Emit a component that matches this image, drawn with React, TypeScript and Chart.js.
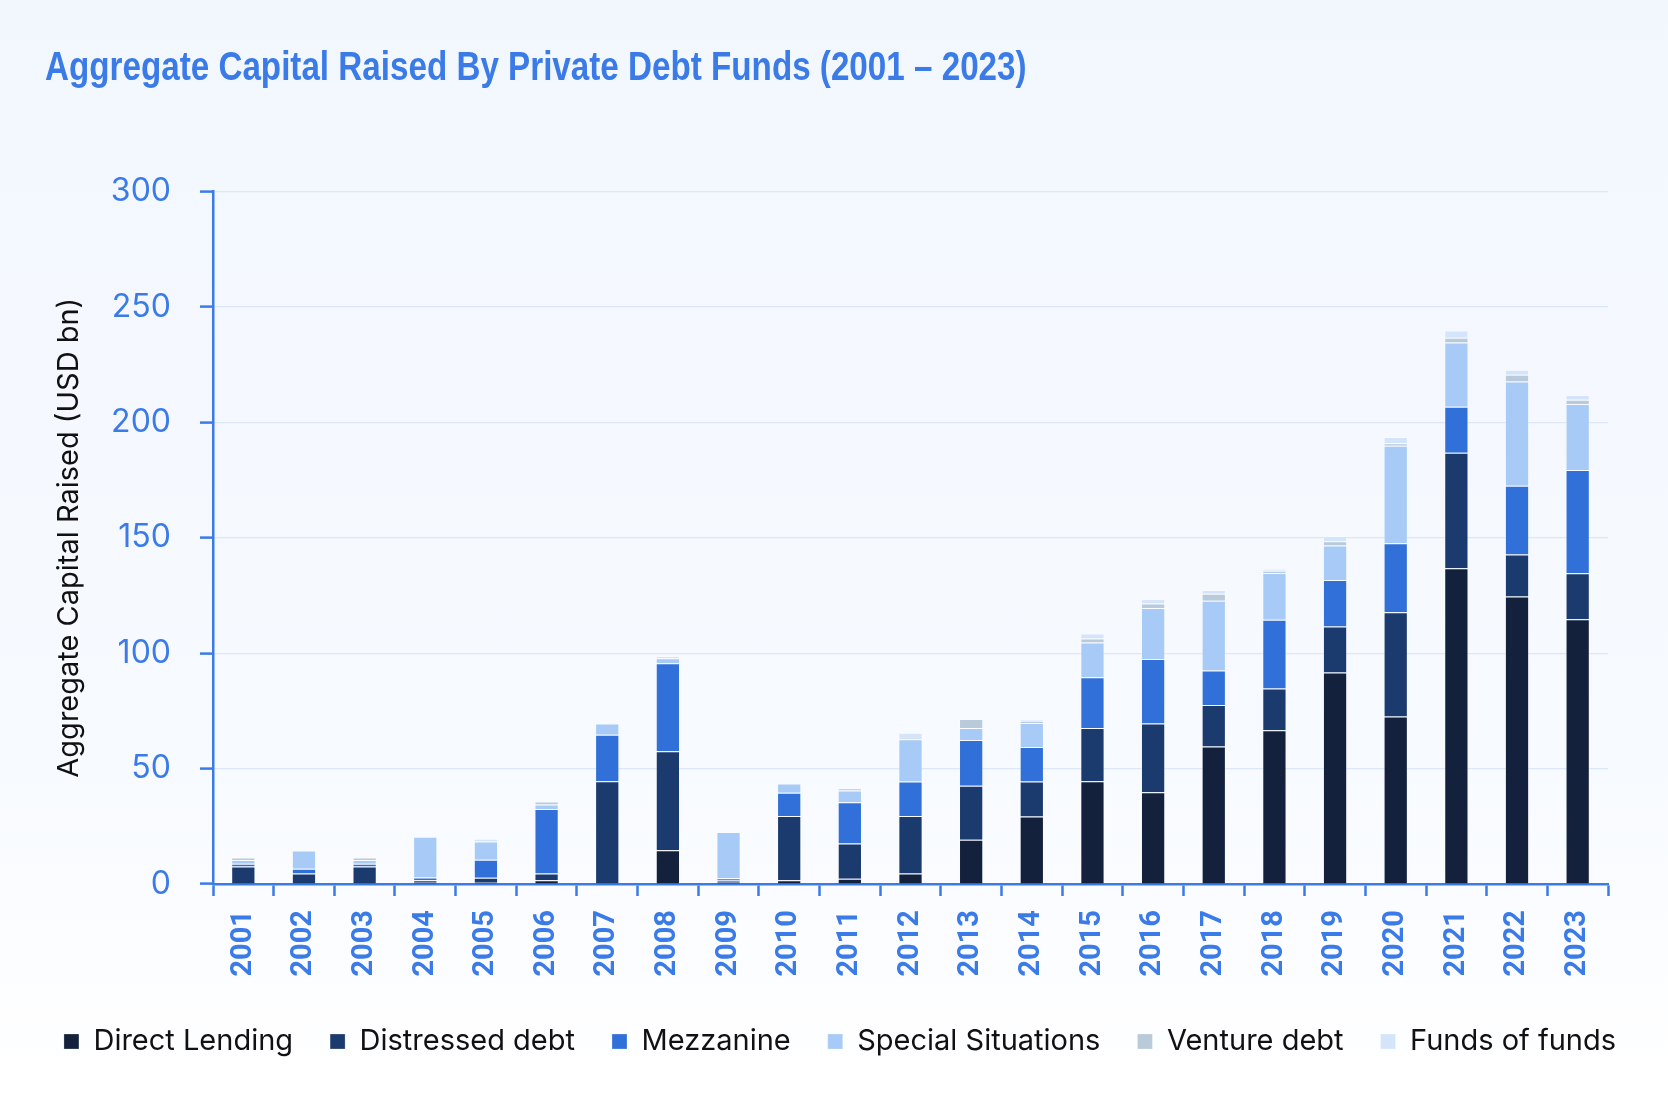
import { useEffect, useRef } from 'react';
import { Chart, registerables } from 'chart.js';

Chart.register(...registerables);

const years = [
  '2001', '2002', '2003', '2004', '2005', '2006', '2007', '2008', '2009', '2010', '2011', '2012',
  '2013', '2014', '2015', '2016', '2017', '2018', '2019', '2020', '2021', '2022', '2023'
];

// USD bn
const directLending = [0, 0, 0, 0.5, 0.5, 1.6, 0, 14.6, 0.5, 1.6, 2.3, 4.5, 19.2, 29.2, 44.5, 39.7, 59.6, 66.6, 91.6, 72.6, 136.8, 124.5, 114.7];
const distressedDebt = [7.6, 4.6, 7.6, 1.1, 2.2, 3.0, 44.5, 42.9, 1.0, 27.9, 15.2, 25.0, 23.4, 15.2, 23.1, 29.8, 17.9, 18.1, 19.9, 45.1, 50.0, 18.2, 19.9];
const mezzanine = [1.2, 2.0, 1.2, 1.2, 7.8, 27.9, 20.2, 38.1, 1.0, 10.0, 17.9, 14.9, 19.8, 15.0, 22.0, 28.0, 15.0, 29.8, 20.2, 29.9, 19.9, 29.8, 44.8];
const specialSituations = [1.6, 7.9, 1.6, 17.7, 7.9, 1.9, 4.8, 2.2, 20.0, 4.0, 5.1, 18.3, 5.2, 10.3, 15.0, 22.1, 30.2, 20.2, 14.9, 42.3, 27.9, 45.2, 28.5];
const ventureDebt = [1.1, 0, 1.1, 0, 0, 1.3, 0, 0, 0, 0, 1.0, 0.6, 3.9, 1.0, 1.7, 1.9, 3.0, 1.0, 1.9, 1.0, 2.0, 2.9, 1.9];
const fundsOfFunds = [0, 0, 0, 0, 1.2, 0, 0, 1.0, 0, 0, 0, 2.2, 0, 0.7, 2.2, 2.0, 1.7, 0.9, 2.3, 2.7, 3.2, 2.2, 2.0];

const yTicks = [0, 50, 100, 150, 200, 250, 300];

const BLUE = '#3b7be8';

export default function App() {
  const ref = useRef<HTMLCanvasElement | null>(null);

  useEffect(() => {
    document.body.style.margin = '0';
    if (!ref.current) return;

    const series = [
      { label: 'Direct Lending', data: directLending, color: '#14213d' },
      { label: 'Distressed debt', data: distressedDebt, color: '#1b3a6e' },
      { label: 'Mezzanine', data: mezzanine, color: '#3070d8' },
      { label: 'Special Situations', data: specialSituations, color: '#a7cbf6' },
      { label: 'Venture debt', data: ventureDebt, color: '#b9cadb' },
      { label: 'Funds of funds', data: fundsOfFunds, color: '#d4e5fb' }
    ];

    const chart = new Chart(ref.current, {
      type: 'bar',
      data: {
        labels: years,
        datasets: series.map((s) => ({
          label: s.label,
          data: s.data,
          backgroundColor: s.color,
          borderColor: 'rgba(255,255,255,0.25)',
          borderWidth: 1,
          barPercentage: 0.4,
          categoryPercentage: 1
        }))
      },
      options: {
        animation: false,
        responsive: true,
        maintainAspectRatio: false,
        layout: { padding: { top: 191.5, left: 12, right: 0, bottom: 34 } },
        plugins: {
          title: { display: false },
          tooltip: { enabled: false },
          legend: {
            position: 'bottom',
            labels: {
              color: '#111111',
              font: { family: 'Inter', size: 29 },
              boxWidth: 15,
              boxHeight: 15,
              padding: 37
            }
          }
        },
        scales: {
          x: {
            stacked: true,
            offset: true,
            grid: {
              drawOnChartArea: false,
              offset: true,
              tickLength: 12,
              tickColor: BLUE,
              tickWidth: 2.5
            },
            border: { color: BLUE, width: 2.5 },
            ticks: {
              autoSkip: false,
              minRotation: 90,
              maxRotation: 90,
              padding: 14,
              color: BLUE,
              font: { family: 'Roboto', size: 29, weight: 'bold' }
            },
            afterFit: (scale) => {
              scale.height = 106;
            }
          },
          y: {
            stacked: true,
            min: 0,
            max: 300,
            afterBuildTicks: (scale) => {
              scale.ticks = yTicks.map((value) => ({ value }));
            },
            grid: {
              color: '#dce8f8',
              lineWidth: 1.2,
              tickLength: 13,
              tickColor: BLUE,
              tickWidth: 2.5
            },
            border: { color: BLUE, width: 2.5 },
            ticks: {
              padding: 29,
              color: BLUE,
              font: { family: 'Inter', size: 32 }
            },
            title: {
              display: true,
              text: 'Aggregate Capital Raised (USD bn)',
              color: '#111111',
              font: { family: 'Inter', size: 29 },
              padding: { top: 40, bottom: 0 }
            },
            afterFit: (scale) => {
              scale.width = 201;
            }
          },
          yRight: {
            position: 'right',
            display: true,
            grid: { display: false, drawTicks: false },
            border: { display: false },
            ticks: { display: false },
            afterFit: (scale) => {
              scale.width = 60;
            }
          }
        }
      }
    });
    return () => chart.destroy();
  }, []);

  return (
    <div
      style={{
        position: 'relative',
        width: 1668,
        height: 1100,
        background: 'linear-gradient(180deg, #f2f7fe 0%, #f7faff 70%, #ffffff 100%)'
      }}
    >
      <div
        style={{
          position: 'absolute',
          left: 45,
          top: 46,
          fontFamily: '"Liberation Sans", sans-serif',
          fontWeight: 'bold',
          fontSize: 40,
          lineHeight: '40px',
          color: BLUE,
          whiteSpace: 'nowrap',
          transform: 'scaleX(0.83)',
          transformOrigin: 'left center'
        }}
      >
        Aggregate Capital Raised By Private Debt Funds (2001 – 2023)
      </div>
      <canvas ref={ref} aria-label="Aggregate capital raised by private debt funds" />
    </div>
  );
}
